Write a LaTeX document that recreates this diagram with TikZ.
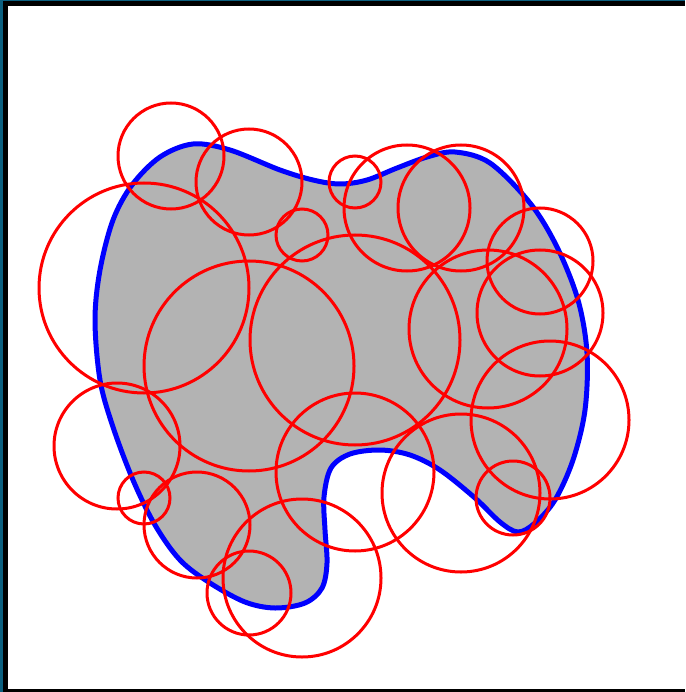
\documentclass[tikz,border=0pt]{standalone}
\usepackage{tikz}
\usetikzlibrary{calc}
\definecolor{shapegray}{RGB}{179,179,179}
\definecolor{frameteal}{RGB}{12,96,128}

\begin{document}
\begin{tikzpicture}[x=1pt,y=-1pt]
	\useasboundingbox (0,0) rectangle (685,692);
	\fill[white] (0,0) rectangle (685,692);
	% window frame
	\fill[frameteal] (0,0) rectangle (685,1.3);
	\fill[frameteal] (0,0) rectangle (3,692);
	\fill[black] (3,1.3) rectangle (685,6);
	\fill[black] (3,1.3) rectangle (8,692);
	\fill[black] (3,689) rectangle (685,692);
	% region
	\draw[line width=5pt,blue,fill=shapegray] plot[smooth cycle,tension=0.55] coordinates {
		(193,144) (230,150) (280,170) (313,180) (340,184) (367,180) (397,168) (427,157)
		(455,152) (490,163) (530,203) (557,247) (578,300) (587,353) (585,410) (573,460)
		(555,500) (535,523) (518,532) (500,522) (475,498) (440,470) (410,455) (380,450)
		(350,454) (331,468) (324,497) (325,530) (327,563) (322,588) (305,603) (275,608)
		(245,602) (210,583) (180,560) (155,525) (133,480) (113,427) (100,380) (95,320)
		(100,270) (113,220) (132,185) (160,157)};
	% covering disks
	\foreach \cx/\cy/\r in {171/156/53, 249/182/53, 144/288/105, 302/235/26, 355/182/26,
		407/208/63, 461/208/63, 540/261/53, 540/313/63, 488/329/79, 355/340/105,
		249/366/105, 117/446/63, 144/498/26, 197/525/53, 249/593/42, 302/578/79,
		355/472/79, 461/493/79, 550/420/79, 513/498/37}
		\draw[line width=3pt,red] (\cx,\cy) circle[radius=\r];
\end{tikzpicture}
\end{document}
